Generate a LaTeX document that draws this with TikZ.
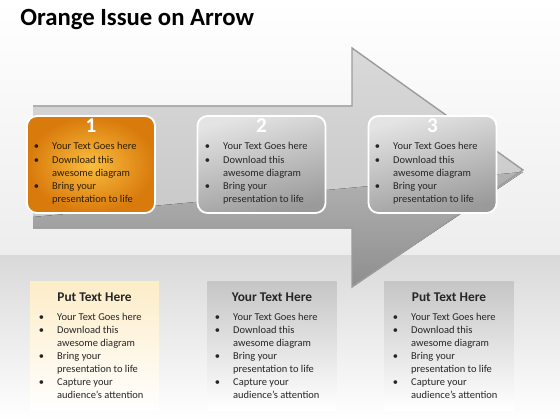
\documentclass[tikz,border=0pt]{standalone}
\usepackage{fontspec}
\setmainfont{Carlito}
\usetikzlibrary{positioning}
\definecolor{orgin}{HTML}{FBBD3E}
\definecolor{orgout}{HTML}{D87A0C}
\definecolor{gryin}{HTML}{E4E4E4}
\definecolor{gryout}{HTML}{9A9A9A}
\definecolor{arrlight}{HTML}{D9D9D9}
\definecolor{arrmid}{HTML}{C2C2C2}
\definecolor{arrdark}{HTML}{8E8E8E}
\definecolor{arrline}{HTML}{9C9C9C}
\definecolor{band}{HTML}{D9D9D9}
\definecolor{cream}{HTML}{FDEDC8}
\definecolor{panelgray}{HTML}{C6C6C6}
\definecolor{ink}{HTML}{262626}
\definecolor{brownink}{HTML}{2E1E05}
\newcommand{\shortpts}{\begin{tabular}[t]{@{}l@{\hspace{9.4pt}}l@{}}\textbullet & Your Text Goes here\\ \textbullet & Download this\\ & awesome diagram\\ \textbullet & Bring your\\ & presentation to life\end{tabular}}
\newcommand{\longpts}{\begin{tabular}[t]{@{}l@{\hspace{9.4pt}}l@{}}\textbullet & Your Text Goes here\\ \textbullet & Download this\\ & awesome diagram\\ \textbullet & Bring your\\ & presentation to life\\ \textbullet & Capture your\\ & audience’s attention\end{tabular}}
\begin{document}
\begin{tikzpicture}[x=0.025cm, y=-0.025cm, stepbox/.style={draw=white, line width=1.3pt, rounded corners=0.25cm, minimum width=3.2cm, minimum height=2.425cm}, panel/.style={minimum width=3.225cm, minimum height=3.2cm, inner sep=0pt}, num/.style={anchor=base, font=\fontsize{15}{18}\selectfont\bfseries, text=white}, pts/.style={anchor=base west, inner sep=0pt, font=\fontsize{7.45}{9.25}\selectfont, text=ink}, head/.style={anchor=base, inner sep=0pt, font=\fontsize{9.5}{11}\selectfont\bfseries, text=ink}]
\useasboundingbox (0,0) rectangle (560,420);
\fill[top color=white, bottom color=black!7] (0,0) rectangle (560,255); \fill[top color=band, bottom color=white] (0,255) rectangle (560,420);
\node[anchor=base west, inner sep=0pt, font=\fontsize{17.6}{20}\selectfont\bfseries] (title) at (20,26) {Orange Issue on Arrow};
\fill[top color=arrlight, bottom color=arrmid] (33,106) -- (352,106) -- (352,48) -- (523,170) -- (352,287) -- (352,228) -- (33,228) -- cycle;
\fill[top color=black!30, bottom color=arrdark] (33,217) -- (523,172) -- (352,287) -- (352,228) -- (33,228) -- cycle;
\draw[arrline, line width=1pt] (33,106) -- (352,106) -- (352,48) -- (523,170) -- (352,287) -- (352,228) -- (33,228);
\node[stepbox, inner color=orgin, outer color=orgout] (box1) at (91,164.5) {}; \node[stepbox, top color=gryin, bottom color=gryout, shading angle=15] (box2) at (261.5,164.5) {}; \node[stepbox, top color=gryin, bottom color=gryout, shading angle=15] (box3) at (432.5,164.5) {};
\node[num] (n1) at (91,133) {1}; \node[num] (n2) at (261.5,133) {2}; \node[num] (n3) at (432.5,133) {3};
\node[pts, text=brownink] (t1) at (33.5,150) {\shortpts}; \node[pts] (t2) at (204.5,150) {\shortpts}; \node[pts] (t3) at (374.5,150) {\shortpts};
\node[panel, top color=cream, bottom color=white] (pan1) at (94.5,346) {}; \node[panel, top color=panelgray, bottom color=white] (pan2) at (272,346) {}; \node[panel, top color=panelgray, bottom color=white] (pan3) at (449,346) {};
\node[head] (h1) at (94.5,301) {Put Text Here}; \node[head] (h2) at (272,301) {Your Text Here}; \node[head] (h3) at (449,301) {Put Text Here};
\node[pts] (b1) at (38.5,320) {\longpts}; \node[pts] (b2) at (214.5,320) {\longpts}; \node[pts] (b3) at (392.5,320) {\longpts};
\end{tikzpicture}
\end{document}
